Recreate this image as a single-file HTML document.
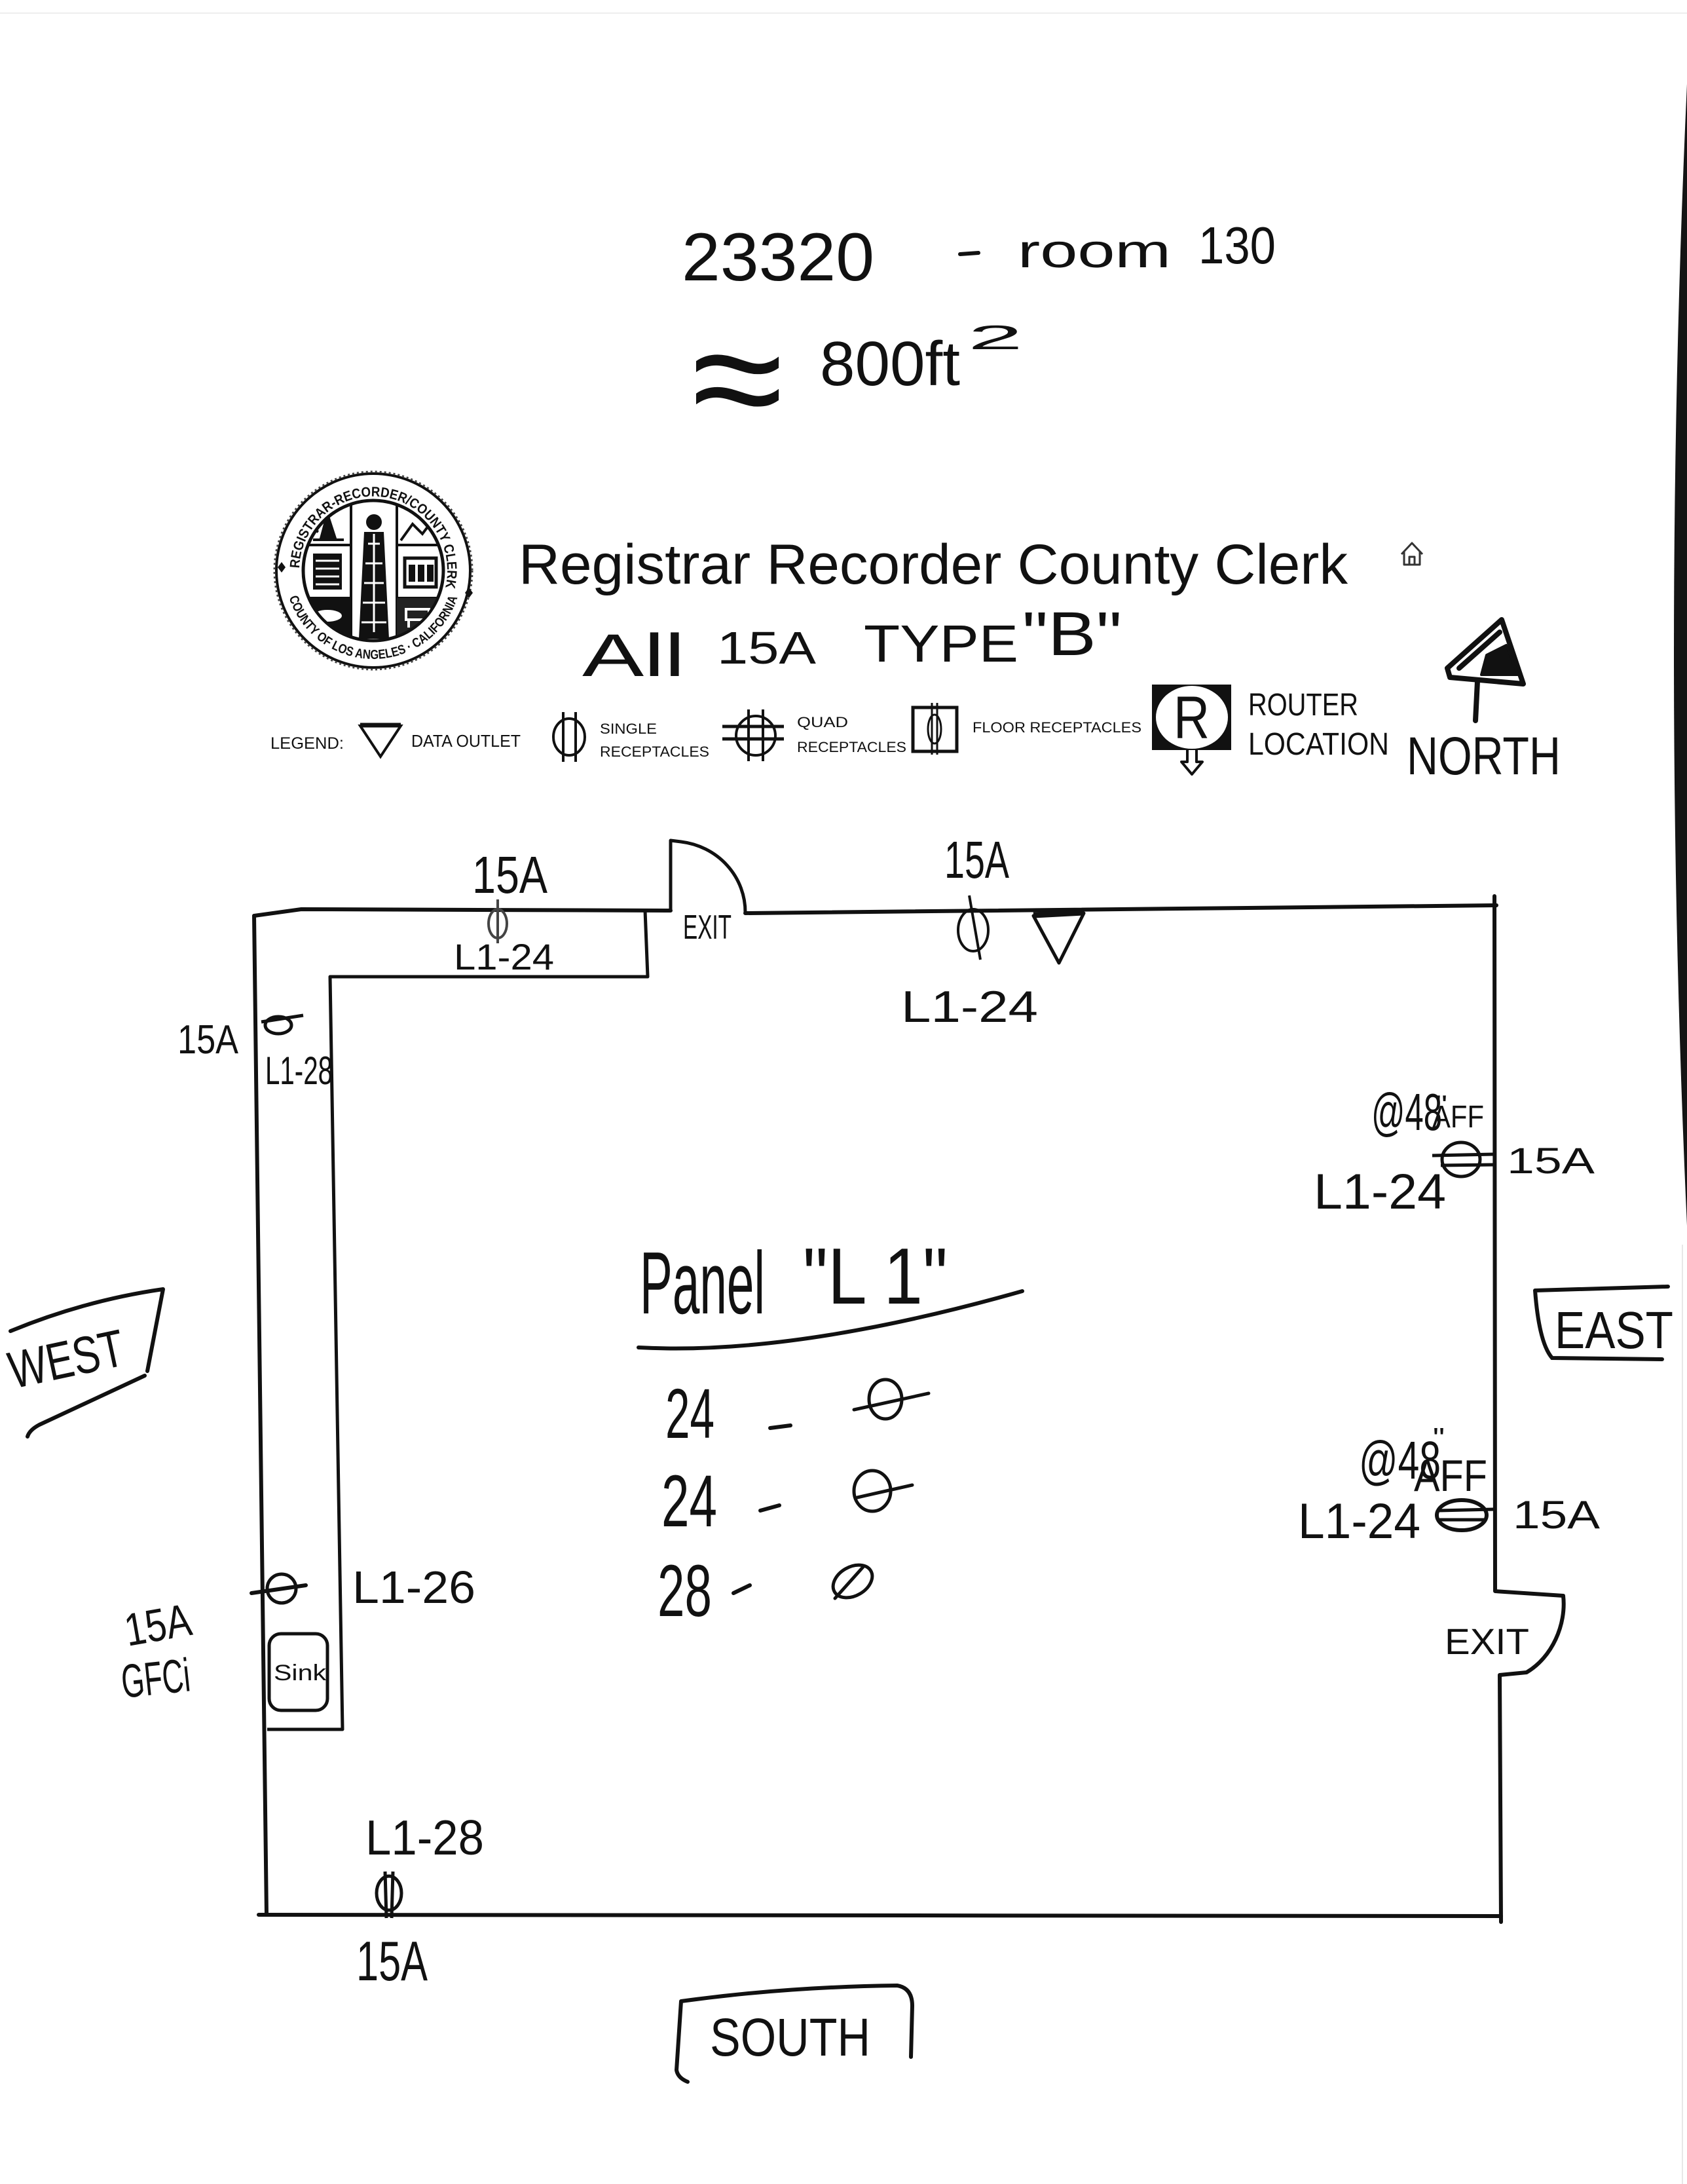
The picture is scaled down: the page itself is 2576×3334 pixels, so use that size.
<!DOCTYPE html>
<html><head><meta charset="utf-8">
<style>
html,body{margin:0;padding:0;background:#fff;}
svg{display:block;}
text{font-family:"Liberation Sans",sans-serif;fill:#111;}
</style></head><body>
<svg width="2576" height="3334" viewBox="0 0 2576 3334" xmlns="http://www.w3.org/2000/svg">
<defs>
<clipPath id="inner"><circle cx="570" cy="871" r="105"/></clipPath>
<path id="sealTop" d="M457 871 A113 113 0 1 1 679.1 900.2"/>
<path id="sealBot" d="M439.6 905.9 A135 135 0 0 0 700.4 905.9"/>
</defs>
<rect width="2576" height="3334" fill="#fff"/>
<line x1="0" y1="20" x2="2576" y2="20" stroke="#eee" stroke-width="2"/>
<line x1="2569" y1="1900" x2="2569" y2="3334" stroke="#e8e8e8" stroke-width="2"/>
<path d="M2576 128 Q2536 1000 2576 1871 Z" fill="#141414"/>

<!-- header handwriting -->
<text x="1041" y="428" font-size="104" textLength="294" lengthAdjust="spacingAndGlyphs">23320</text>
<line x1="1466" y1="388" x2="1494" y2="386" stroke="#111" stroke-width="6" stroke-linecap="round"/>
<text x="1554" y="408" font-size="72" textLength="234" lengthAdjust="spacingAndGlyphs">room</text>
<text x="1830" y="402" font-size="80" textLength="118" lengthAdjust="spacingAndGlyphs">130</text>
<text x="1056" y="660" font-size="240" textLength="140" lengthAdjust="spacingAndGlyphs" fill="#333">≈</text>
<text x="1252" y="588" font-size="96" textLength="214" lengthAdjust="spacingAndGlyphs">800ft</text>
<text x="1478" y="533" font-size="52" textLength="84" lengthAdjust="spacingAndGlyphs">2</text>

<!-- seal -->
<g>
<circle cx="570" cy="871" r="148" fill="#fff" stroke="#111" stroke-width="4"/>
<circle cx="570" cy="871" r="151" fill="none" stroke="#444" stroke-width="3" stroke-dasharray="3 4"/>
<text font-size="21" font-weight="bold"><textPath href="#sealTop" startOffset="50%" text-anchor="middle" textLength="378" lengthAdjust="spacingAndGlyphs">REGISTRAR-RECORDER/COUNTY CLERK</textPath></text>
<text font-size="20" font-weight="bold"><textPath href="#sealBot" startOffset="50%" text-anchor="middle" textLength="340" lengthAdjust="spacingAndGlyphs">COUNTY OF LOS ANGELES · CALIFORNIA</textPath></text>
<path d="M424 866 l6 -8 l6 8 l-6 8z M710 905 l6 -8 l6 8 l-6 8z" fill="#111"/>
<circle cx="570" cy="871" r="107" fill="#fff" stroke="#111" stroke-width="5"/>
<g clip-path="url(#inner)" stroke="#111" stroke-width="4" fill="none">
  <line x1="536" y1="760" x2="536" y2="985"/>
  <line x1="606" y1="760" x2="606" y2="985"/>
  <line x1="460" y1="832" x2="536" y2="832"/>
  <line x1="606" y1="832" x2="685" y2="832"/>
  <line x1="460" y1="913" x2="536" y2="913"/>
  <line x1="606" y1="913" x2="685" y2="913"/>
  <path d="M500 785 L512 822 L490 822 Z M478 824 L525 824" fill="#111"/>
  <path d="M470 812 q8 -5 16 0" />
  <path d="M612 825 L630 800 L645 815 L660 795 L680 825"/>
  <rect x="478" y="845" width="44" height="55" fill="#111" stroke="none"/>
  <path d="M482 856 h36 M482 868 h36 M482 880 h36 M482 892 h36" stroke="#fff" stroke-width="3"/>
  <rect x="618" y="852" width="48" height="44" stroke-width="5"/>
  <path d="M624 862 h10 v26 h-10z M638 862 h10 v26 h-10z M652 862 h10 v26 h-10z" fill="#111" stroke="none"/>
  <rect x="460" y="913" width="76" height="80" fill="#111" stroke="none"/>
  <ellipse cx="500" cy="940" rx="22" ry="9" fill="#fff" stroke="none"/>
  <rect x="606" y="913" width="80" height="80" fill="#222" stroke="none"/>
  <path d="M620 930 h35 v16 h-35z M624 946 v12 M650 946 v12" stroke="#fff" stroke-width="4"/>
  <circle cx="571" cy="797" r="12" fill="#111" stroke="none"/>
  <path d="M556 812 L586 812 L594 975 L548 975 Z" fill="#111" stroke="none"/>
  <path d="M562 830 l18 0 M558 860 l26 0 M556 890 l30 0 M554 920 l34 0 M552 950 l38 0 M571 815 v150" stroke="#fff" stroke-width="3"/>
</g>
</g>

<!-- title -->
<text x="792" y="891" font-size="86" textLength="1266" lengthAdjust="spacingAndGlyphs">Registrar Recorder County Clerk</text>
<path d="M2140 846 L2156 829 L2172 846 M2144 842 V862 H2168 V842 M2152 862 V850 H2160 V862" stroke="#333" stroke-width="3" fill="none" stroke-linejoin="round"/>

<!-- All 15A TYPE "B" -->
<text x="889" y="1032" font-size="92" textLength="157" lengthAdjust="spacingAndGlyphs">All</text>
<text x="1095" y="1013" font-size="70" textLength="151" lengthAdjust="spacingAndGlyphs">15A</text>
<text x="1319" y="1010" font-size="80" textLength="236" lengthAdjust="spacingAndGlyphs">TYPE</text>
<text x="1561" y="1000" font-size="95" textLength="152" lengthAdjust="spacingAndGlyphs">"B"</text>

<!-- legend -->
<g fill="#222">
<text x="413" y="1143" font-size="25" textLength="112" lengthAdjust="spacingAndGlyphs" fill="#333">LEGEND:</text>
<polygon points="550,1108 612,1108 581,1155" fill="none" stroke="#111" stroke-width="4"/>
<line x1="550" y1="1107" x2="612" y2="1107" stroke="#111" stroke-width="7"/>
<text x="628" y="1140" font-size="26" textLength="167" lengthAdjust="spacingAndGlyphs" fill="#333">DATA OUTLET</text>
<ellipse cx="869" cy="1125" rx="24" ry="28" fill="none" stroke="#111" stroke-width="4"/>
<line x1="860" y1="1087" x2="860" y2="1163" stroke="#111" stroke-width="4"/>
<line x1="879" y1="1087" x2="879" y2="1163" stroke="#111" stroke-width="4"/>
<text x="916" y="1120" font-size="22" textLength="87" lengthAdjust="spacingAndGlyphs" fill="#333">SINGLE</text>
<text x="916" y="1155" font-size="22" textLength="167" lengthAdjust="spacingAndGlyphs" fill="#333">RECEPTACLES</text>
<ellipse cx="1154" cy="1123" rx="30" ry="30" fill="none" stroke="#111" stroke-width="4"/>
<line x1="1143" y1="1083" x2="1143" y2="1162" stroke="#111" stroke-width="4"/>
<line x1="1165" y1="1083" x2="1165" y2="1162" stroke="#111" stroke-width="4"/>
<line x1="1103" y1="1109" x2="1197" y2="1109" stroke="#111" stroke-width="5"/>
<line x1="1103" y1="1128" x2="1197" y2="1128" stroke="#111" stroke-width="5"/>
<text x="1217" y="1110" font-size="22" textLength="78" lengthAdjust="spacingAndGlyphs" fill="#333">QUAD</text>
<text x="1217" y="1148" font-size="22" textLength="167" lengthAdjust="spacingAndGlyphs" fill="#333">RECEPTACLES</text>
<rect x="1394" y="1080" width="67" height="67" fill="none" stroke="#111" stroke-width="5"/>
<ellipse cx="1427" cy="1113" rx="10" ry="22" fill="none" stroke="#111" stroke-width="3"/>
<line x1="1423" y1="1073" x2="1423" y2="1152" stroke="#111" stroke-width="3"/>
<line x1="1431" y1="1073" x2="1431" y2="1152" stroke="#111" stroke-width="3"/>
<text x="1485" y="1118" font-size="22" textLength="258" lengthAdjust="spacingAndGlyphs" fill="#333">FLOOR RECEPTACLES</text>
<rect x="1759" y="1045" width="121" height="100" fill="#111"/>
<ellipse cx="1820" cy="1095" rx="55" ry="48" fill="#fff"/>
<text x="1792" y="1127" font-size="92" textLength="55" lengthAdjust="spacingAndGlyphs" fill="#111">R</text>
<path d="M1813 1145 V1163 H1804 L1820 1182 L1836 1163 H1827 V1145" fill="#fff" stroke="#111" stroke-width="4" stroke-linejoin="round"/>
<text x="1906" y="1092" font-size="48" textLength="168" lengthAdjust="spacingAndGlyphs" fill="#111">ROUTER</text>
<text x="1906" y="1152" font-size="48" textLength="215" lengthAdjust="spacingAndGlyphs" fill="#111">LOCATION</text>
</g>

<!-- north arrow -->
<g stroke="#111" stroke-width="8" fill="none" stroke-linejoin="round" stroke-linecap="round">
<path d="M2210 1020 L2293 946 L2326 1044 L2214 1034 Z"/>
<path d="M2228 1020 L2290 965"/>
<path d="M2270 1000 L2300 985 L2318 1030 L2262 1030 Z" fill="#111" stroke-width="4"/>
<path d="M2256 1040 L2253 1100"/>
</g>
<text x="2148" y="1182" font-size="82" textLength="235" lengthAdjust="spacingAndGlyphs">NORTH</text>

<!-- room walls -->
<g stroke="#111" stroke-width="6" fill="none" stroke-linecap="round" stroke-linejoin="round">
<path d="M388 1398 L460 1388 L1024 1390"/>
<path d="M1138 1394 L2285 1382"/>
<path d="M2282 1368 L2283 2429 L2387 2436 C2392 2480 2370 2530 2331 2553 L2290 2557 L2292 2934"/>
<path d="M388 1398 L407 2923"/>
<path d="M395 2923 L2292 2925"/>
</g>
<path d="M1024 1392 L1024 1283 L1040 1285 A112 108 0 0 1 1138 1393" stroke="#111" stroke-width="5" fill="none" stroke-linejoin="round"/>
<path d="M985 1390 L989 1491 L504 1491 L523 2640 L408 2640" stroke="#111" stroke-width="5" fill="none" stroke-linejoin="round"/>

<!-- top-left counter labels -->
<text x="721" y="1363" font-size="80" textLength="115" lengthAdjust="spacingAndGlyphs">15A</text>
<ellipse cx="760" cy="1410" rx="14" ry="22" fill="none" stroke="#444" stroke-width="4"/>
<line x1="760" y1="1373" x2="760" y2="1440" stroke="#444" stroke-width="4"/>
<text x="693" y="1480" font-size="56" textLength="153" lengthAdjust="spacingAndGlyphs" fill="#888">L1-24</text>
<text x="1043" y="1433" font-size="52" textLength="74" lengthAdjust="spacingAndGlyphs">EXIT</text>

<!-- left wall upper receptacle -->
<text x="271" y="1608" font-size="62" textLength="93" lengthAdjust="spacingAndGlyphs">15A</text>
<ellipse cx="425" cy="1565" rx="20" ry="13" fill="none" stroke="#111" stroke-width="5"/>
<line x1="399" y1="1560" x2="463" y2="1550" stroke="#111" stroke-width="5"/>
<text x="405" y="1655" font-size="60" textLength="103" lengthAdjust="spacingAndGlyphs">L1-28</text>

<!-- top right receptacle & data -->
<text x="1442" y="1340" font-size="80" textLength="99" lengthAdjust="spacingAndGlyphs">15A</text>
<ellipse cx="1486" cy="1420" rx="23" ry="32" fill="none" stroke="#111" stroke-width="4"/>
<line x1="1480" y1="1367" x2="1497" y2="1465" stroke="#111" stroke-width="4"/>
<polygon points="1578,1398 1655,1394 1617,1470" fill="none" stroke="#111" stroke-width="5" stroke-linejoin="round"/>
<line x1="1578" y1="1397" x2="1655" y2="1393" stroke="#111" stroke-width="9"/>
<text x="1376" y="1560" font-size="68" textLength="209" lengthAdjust="spacingAndGlyphs">L1-24</text>

<!-- right wall upper -->
<text x="2094" y="1725" font-size="80" textLength="108" lengthAdjust="spacingAndGlyphs">@48</text>
<text x="2192" y="1700" font-size="40" textLength="18" lengthAdjust="spacingAndGlyphs">"</text>
<text x="2187" y="1721" font-size="48" textLength="79" lengthAdjust="spacingAndGlyphs">AFF</text>
<ellipse cx="2231" cy="1770" rx="29" ry="26" fill="none" stroke="#111" stroke-width="5"/>
<line x1="2187" y1="1764" x2="2281" y2="1762" stroke="#111" stroke-width="5"/>
<line x1="2200" y1="1779" x2="2281" y2="1778" stroke="#111" stroke-width="5"/>
<text x="2301" y="1791" font-size="56" textLength="134" lengthAdjust="spacingAndGlyphs">15A</text>
<text x="2006" y="1845" font-size="76" textLength="202" lengthAdjust="spacingAndGlyphs">L1-24</text>

<!-- EAST -->
<path d="M2344 1970 L2547 1964 M2344 1970 Q2350 2050 2370 2073 L2538 2075" stroke="#111" stroke-width="6" fill="none" stroke-linecap="round"/>
<text x="2374" y="2058" font-size="80" textLength="181" lengthAdjust="spacingAndGlyphs">EAST</text>

<!-- right wall lower -->
<text x="2075" y="2257" font-size="82" textLength="125" lengthAdjust="spacingAndGlyphs">@48</text>
<text x="2188" y="2210" font-size="44" textLength="18" lengthAdjust="spacingAndGlyphs">"</text>
<text x="2159" y="2276" font-size="68" textLength="112" lengthAdjust="spacingAndGlyphs">AFF</text>
<ellipse cx="2232" cy="2313" rx="38" ry="23" fill="none" stroke="#111" stroke-width="6"/>
<line x1="2196" y1="2306" x2="2281" y2="2304" stroke="#111" stroke-width="5"/>
<line x1="2196" y1="2320" x2="2268" y2="2320" stroke="#111" stroke-width="5"/>
<text x="2310" y="2333" font-size="60" textLength="133" lengthAdjust="spacingAndGlyphs">15A</text>
<text x="1982" y="2348" font-size="76" textLength="187" lengthAdjust="spacingAndGlyphs">L1-24</text>
<text x="2206" y="2525" font-size="56" textLength="129" lengthAdjust="spacingAndGlyphs">EXIT</text>

<!-- center panel -->
<text x="977" y="2005" font-size="135" textLength="191" lengthAdjust="spacingAndGlyphs">Panel</text>
<text x="1226" y="1990" font-size="122" textLength="221" lengthAdjust="spacingAndGlyphs">"L 1"</text>
<path d="M975 2057 Q1212 2070 1561 1971" stroke="#111" stroke-width="6" fill="none" stroke-linecap="round"/>
<text x="1016" y="2195" font-size="108" textLength="75" lengthAdjust="spacingAndGlyphs">24</text>
<line x1="1176" y1="2180" x2="1207" y2="2176" stroke="#111" stroke-width="6" stroke-linecap="round"/>
<ellipse cx="1352" cy="2136" rx="25" ry="30" fill="none" stroke="#111" stroke-width="5"/>
<line x1="1304" y1="2152" x2="1418" y2="2127" stroke="#111" stroke-width="5" stroke-linecap="round"/>
<text x="1010" y="2330" font-size="112" textLength="85" lengthAdjust="spacingAndGlyphs">24</text>
<line x1="1161" y1="2306" x2="1190" y2="2298" stroke="#111" stroke-width="6" stroke-linecap="round"/>
<ellipse cx="1332" cy="2276" rx="28" ry="31" fill="none" stroke="#111" stroke-width="5"/>
<line x1="1309" y1="2286" x2="1393" y2="2267" stroke="#111" stroke-width="5" stroke-linecap="round"/>
<text x="1004" y="2467" font-size="112" textLength="83" lengthAdjust="spacingAndGlyphs">28</text>
<line x1="1120" y1="2432" x2="1145" y2="2420" stroke="#111" stroke-width="6" stroke-linecap="round"/>
<ellipse cx="1302" cy="2414" rx="32" ry="22" transform="rotate(-30 1302 2414)" fill="none" stroke="#111" stroke-width="5"/>
<line x1="1275" y1="2440" x2="1318" y2="2392" stroke="#111" stroke-width="5" stroke-linecap="round"/>

<!-- WEST -->
<path d="M16 2032 Q130 1985 249 1968 L225 2093 M221 2100 L60 2175 Q45 2183 42 2193" stroke="#111" stroke-width="6" fill="none" stroke-linecap="round" stroke-linejoin="round"/>
<text x="20" y="2120" font-size="80" textLength="178" lengthAdjust="spacingAndGlyphs" transform="rotate(-12 20 2120)">WEST</text>

<!-- left lower: sink area -->
<circle cx="430" cy="2425" r="22" fill="none" stroke="#111" stroke-width="5"/>
<line x1="384" y1="2432" x2="467" y2="2420" stroke="#111" stroke-width="6" stroke-linecap="round"/>
<text x="538" y="2447" font-size="70" textLength="188" lengthAdjust="spacingAndGlyphs">L1-26</text>
<text x="195" y="2513" font-size="70" textLength="102" lengthAdjust="spacingAndGlyphs" transform="rotate(-10 195 2513)">15A</text>
<text x="188" y="2592" font-size="72" textLength="105" lengthAdjust="spacingAndGlyphs" transform="rotate(-6 188 2592)">GFCi</text>
<rect x="411" y="2494" width="89" height="117" rx="18" fill="none" stroke="#111" stroke-width="5"/>
<text x="418" y="2565" font-size="34" textLength="80" lengthAdjust="spacingAndGlyphs">Sink</text>

<!-- bottom -->
<text x="558" y="2831" font-size="75" textLength="181" lengthAdjust="spacingAndGlyphs">L1-28</text>
<ellipse cx="594" cy="2890" rx="19" ry="26" fill="none" stroke="#111" stroke-width="5"/>
<line x1="588" y1="2857" x2="590" y2="2928" stroke="#111" stroke-width="5"/>
<line x1="600" y1="2857" x2="598" y2="2928" stroke="#111" stroke-width="5"/>
<text x="544" y="3023" font-size="85" textLength="109" lengthAdjust="spacingAndGlyphs">15A</text>

<!-- SOUTH -->
<path d="M1040 3055 Q1200 3033 1370 3031 Q1393 3035 1393 3062 L1391 3140 M1040 3055 L1033 3160 Q1035 3172 1050 3178" stroke="#111" stroke-width="6" fill="none" stroke-linecap="round"/>
<text x="1084" y="3138" font-size="82" textLength="245" lengthAdjust="spacingAndGlyphs">SOUTH</text>
</svg>
</body></html>
